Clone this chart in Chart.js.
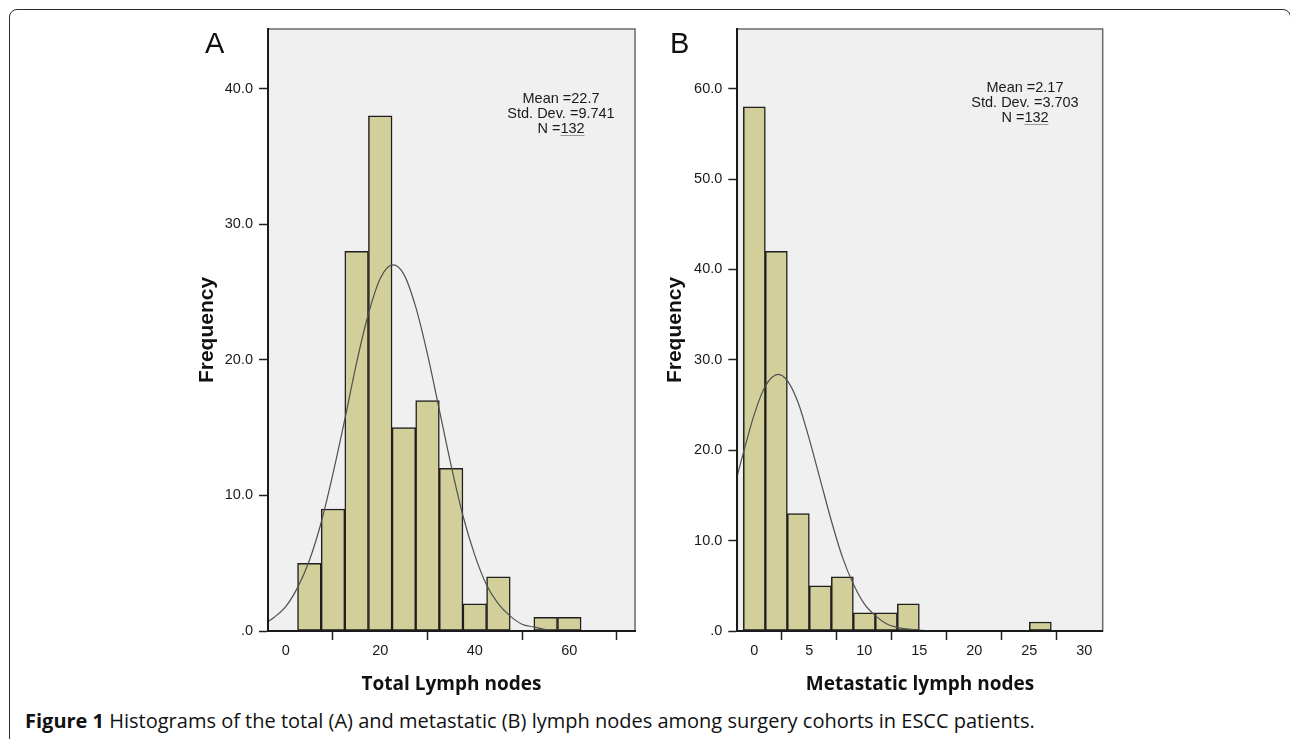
<!DOCTYPE html>
<html>
<head>
<meta charset="utf-8">
<script src="https://cdn.jsdelivr.net/npm/chart.js@4.4.1/dist/chart.umd.min.js"></script>
<style>
  body { margin: 0; background: #fff; width: 1290px; height: 739px; overflow: hidden; position: relative; font-family: 'Liberation Sans', Arial, sans-serif; }
  canvas { position: absolute; top: 0; }
  #chartA { left: 150px; }
  #chartB { left: 620px; }
  .frame { position: absolute; left: 9px; top: 9px; width: 1282px; height: 800px; box-sizing: border-box; border: 1.5px solid #2b2b2b; border-radius: 8px; }
  .panel { position: absolute; top: 28.5px; font-size: 29px; line-height: 29px; color: #111; }
  .stats { position: absolute; width: 200px; text-align: center; font-size: 14.5px; line-height: 15px; color: #1a1a1a; }
  .stats u { text-decoration-color: #9a9a9a; text-underline-offset: 2px; }
  .caption { position: absolute; left: 25px; top: 709.6px; font-family: 'Open Sans', sans-serif; font-size: 20px; line-height: 22px; color: #111; white-space: nowrap; }
</style>
</head>
<body>
<div class="frame"></div>
<canvas id="chartA" width="495" height="705"></canvas>
<canvas id="chartB" width="495" height="705"></canvas>
<div class="panel" style="left:205px">A</div>
<div class="panel" style="left:670px">B</div>
<div class="stats" style="left:461px; top:90.5px">Mean =22.7<br>Std. Dev. =9.741<br>N =<u>132</u></div>
<div class="stats" style="left:925px; top:79.5px">Mean =2.17<br>Std. Dev. =3.703<br>N =<u>132</u></div>
<div class="caption"><b>Figure 1</b> Histograms of the total (A) and metastatic (B) lymph nodes among surgery cohorts in ESCC patients.</div>
<script>
// A: total lymph nodes, bins of width 5
const binCentersA = [5, 10, 15, 20, 25, 30, 35, 40, 45, 50, 55, 60];
const countsA = [5, 9, 28, 38, 15, 17, 12, 2, 4, 0, 1, 1];
const curveXA = [-3.75, -2.5, 0, 2.5, 5, 7.5, 10, 12.5, 15, 17.5, 20, 22.7, 25, 27.5, 30, 32.5, 35, 37.5, 40, 42.5, 45, 47.5, 50, 52.5, 55, 57.5, 60, 73.9];
const curveYA = [0.7, 1.0, 1.8, 3.2, 5.2, 8.0, 11.6, 15.6, 19.8, 23.4, 26.0, 27.0, 26.3, 23.9, 20.4, 16.3, 12.2, 8.5, 5.6, 3.4, 2.0, 1.1, 0.5, 0.3, 0.1, 0.05, 0, 0];
const xTicksA = [0, 20, 40, 60];
const yTicksA = [0, 10, 20, 30, 40];
const yLabelsA = ['.0', '10.0', '20.0', '30.0', '40.0'];

// B: metastatic lymph nodes, bins of width 2
const binCentersB = [0, 2, 4, 6, 8, 10, 12, 14, 16, 18, 20, 22, 24, 26];
const countsB = [58, 42, 13, 5, 6, 2, 2, 3, 0, 0, 0, 0, 0, 1];
const curveXB = [-1.55, -1, 0, 1, 2.17, 3, 4, 5, 6, 7, 8, 9, 10, 11, 12, 13, 14, 15, 16, 31.67];
const curveYB = [17.2, 19.7, 24.0, 27.1, 28.4, 27.7, 25.2, 21.2, 16.7, 12.2, 8.2, 5.2, 3.0, 1.7, 0.8, 0.4, 0.2, 0.1, 0, 0];
const xTicksB = [0, 5, 10, 15, 20, 25, 30];
const yTicksB = [0, 10, 20, 30, 40, 50, 60];
const yLabelsB = ['.0', '10.0', '20.0', '30.0', '40.0', '50.0', '60.0'];

Chart.defaults.font.family = "'Liberation Sans', Arial, sans-serif";

// grey plot background with a thin frame, like the SPSS output
const plotFrame = {
    id: 'plotFrame',
    beforeDraw(chart) {
        const a = chart.chartArea;
        const ctx = chart.ctx;
        ctx.save();
        ctx.fillStyle = '#f0f0f0';
        ctx.fillRect(a.left, a.top, a.right - a.left, a.bottom - a.top);
        ctx.strokeStyle = '#6a6a6a';
        ctx.lineWidth = 1.5;
        ctx.strokeRect(a.left, a.top, a.right - a.left, a.bottom - a.top);
        ctx.restore();
    }
};

function histogram(id, o) {
    return new Chart(document.getElementById(id), {
        type: 'bar',
        data: {
            datasets: [
                {
                    type: 'bar',
                    data: o.centers.map((c, i) => ({ x: c, y: o.counts[i] })),
                    backgroundColor: '#d3cf9b',
                    borderColor: '#1e1e1e',
                    borderWidth: 1.5,
                    borderSkipped: false,
                    barPercentage: 1,
                    categoryPercentage: 1,
                    order: 2
                },
                {
                    type: 'line',
                    data: o.curveX.map((x, i) => ({ x: x, y: o.curveY[i] })),
                    borderColor: '#505050',
                    borderWidth: 1.2,
                    pointRadius: 0,
                    cubicInterpolationMode: 'monotone',
                    order: 1
                }
            ]
        },
        options: {
            responsive: false,
            animation: false,
            devicePixelRatio: 1,
            layout: { padding: { top: 29, right: o.padRight, bottom: 0, left: 0 } },
            plugins: { legend: { display: false }, tooltip: { enabled: false } },
            scales: {
                x: {
                    type: 'linear',
                    offset: false,
                    min: o.xMin,
                    max: o.xMax,
                    afterBuildTicks: s => { s.ticks = o.xTicks.map(v => ({ value: v })); },
                    afterFit: s => { s.height = 74; },
                    ticks: { font: { size: 14.5 }, color: '#1a1a1a', padding: 2, maxRotation: 0 },
                    grid: { drawOnChartArea: false, tickLength: 9, tickColor: '#222', tickWidth: 1.5 },
                    border: { color: '#1a1a1a', width: 2, z: 1 },
                    title: {
                        display: true,
                        text: o.xTitle,
                        color: '#111',
                        font: { family: "'Open Sans', sans-serif", size: 19, weight: 'bold' },
                        padding: { top: 0, bottom: 8.6 }
                    }
                },
                y: {
                    min: 0,
                    max: o.yMax,
                    afterBuildTicks: s => { s.ticks = o.yTicks.map(v => ({ value: v })); },
                    afterFit: s => { s.width = o.yWidth; },
                    ticks: {
                        font: { size: 14.5 },
                        color: '#1a1a1a',
                        padding: 6,
                        callback: v => o.yLabels[o.yTicks.indexOf(v)]
                    },
                    grid: { drawOnChartArea: false, tickLength: 9, tickColor: '#222', tickWidth: 1.5 },
                    border: { color: '#1a1a1a', width: 2, z: 1 },
                    title: {
                        display: true,
                        text: 'Frequency',
                        color: '#111',
                        font: { size: 21, weight: 'bold' },
                        padding: { top: o.yTitlePad, bottom: 0 }
                    }
                }
            }
        },
        plugins: [plotFrame]
    });
}

histogram('chartA', {
    centers: binCentersA, counts: countsA, curveX: curveXA, curveY: curveYA,
    xTicks: xTicksA, yTicks: yTicksA, yLabels: yLabelsA,
    xMin: -3.75, xMax: 73.9, yMax: 44.4,
    xTitle: 'Total Lymph nodes', yWidth: 118, yTitlePad: 44.4, padRight: 10
});

histogram('chartB', {
    centers: binCentersB, counts: countsB, curveX: curveXB, curveY: curveYB,
    xTicks: xTicksB, yTicks: yTicksB, yLabels: yLabelsB,
    xMin: -1.55, xMax: 31.67, yMax: 66.6,
    xTitle: 'Metastatic lymph nodes', yWidth: 117.3, yTitlePad: 42.4, padRight: 12.3
});
</script>
</body>
</html>
